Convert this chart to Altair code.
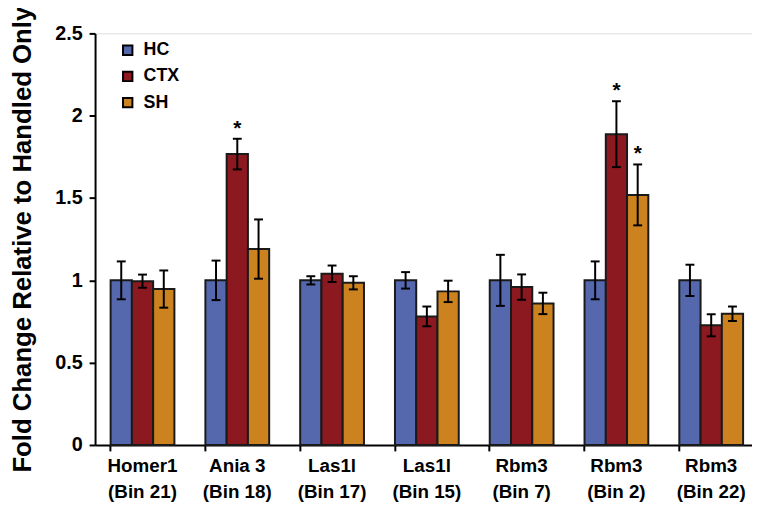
import altair as alt
import pandas as pd

groups = ["Homer1 (Bin 21)", "Ania 3 (Bin 18)", "Las1l (Bin 17)", "Las1l (Bin 15)",
          "Rbm3 (Bin 7)", "Rbm3 (Bin 2)", "Rbm3 (Bin 22)"]
series_names = ["HC", "CTX", "SH"]
colors = ["#5568AE", "#8C1820", "#CD8220"]

hc_vals = [1.0, 1.0, 1.0, 1.0, 1.0, 1.0, 1.0]
hc_err = [0.115, 0.12, 0.025, 0.05, 0.155, 0.115, 0.095]
ctx_vals = [0.995, 1.767, 1.04, 0.781, 0.959, 1.888, 0.727]
ctx_err = [0.04, 0.093, 0.05, 0.06, 0.077, 0.2, 0.067]
sh_vals = [0.947, 1.19, 0.985, 0.933, 0.86, 1.519, 0.797]
sh_err = [0.113, 0.18, 0.04, 0.065, 0.065, 0.185, 0.044]

# significant (group, series) pairs marked with an asterisk
sig = [("Ania 3 (Bin 18)", "CTX"), ("Rbm3 (Bin 2)", "CTX"), ("Rbm3 (Bin 2)", "SH")]

rows = []
for s, vals, errs in zip(series_names, [hc_vals, ctx_vals, sh_vals], [hc_err, ctx_err, sh_err]):
    for g, v, e in zip(groups, vals, errs):
        rows.append({"group": g, "series": s, "value": v, "lo": v - e, "hi": v + e,
                     "sig": "*" if (g, s) in sig else ""})
df = pd.DataFrame(rows)

FONT = "Liberation Sans"

x_scale = alt.Scale(paddingInner=0.327, paddingOuter=0.129, align=0.636)
x_enc = alt.X("group:N", sort=groups, scale=x_scale,
              axis=alt.Axis(title=None, labelAngle=0, bandPosition=0,
                            labelExpr="[slice(datum.label, 0, indexof(datum.label, ' (')), slice(datum.label, indexof(datum.label, ' (') + 1)]",
                            labelFont=FONT, labelFontSize=19, labelFontWeight="bold",
                            labelColor="black", labelLineHeight=26, labelPadding=6,
                            tickSize=6, tickWidth=2, tickColor="black",
                            domainColor="black", domainWidth=2))
xo_enc = alt.XOffset("series:N", sort=series_names,
                     scale=alt.Scale(paddingInner=0, paddingOuter=0))
y_scale = alt.Scale(domain=[0, 2.5], nice=False)

base = alt.Chart(df)

bars = base.mark_bar(stroke="#1a1a1a", strokeWidth=2).encode(
    x=x_enc,
    xOffset=xo_enc,
    y=alt.Y("value:Q", scale=y_scale,
            axis=alt.Axis(title="Fold Change Relative to Handled Only",
                          values=[0, 0.5, 1, 1.5, 2, 2.5], format="~g",
                          labelFont=FONT, labelFontSize=20, labelFontWeight="bold",
                          labelColor="black", labelPadding=7,
                          titleFont=FONT, titleFontSize=26, titleFontWeight="bold",
                          titleColor="black", titlePadding=19,
                          tickSize=6, tickWidth=2, tickColor="black",
                          domainColor="black", domainWidth=2, grid=False)),
    color=alt.Color("series:N", sort=series_names,
                    scale=alt.Scale(domain=series_names, range=colors),
                    legend=alt.Legend(title=None, orient="none", legendX=24, legendY=8,
                                      symbolType="square", symbolSize=90,
                                      symbolStrokeColor="black", symbolStrokeWidth=2,
                                      symbolOpacity=1,
                                      labelFont=FONT, labelFontSize=18, labelFontWeight="bold",
                                      labelColor="black", rowPadding=8.5, labelOffset=7)),
)

rules = base.mark_rule(color="black", strokeWidth=2).encode(
    x=alt.X("group:N", sort=groups, scale=x_scale), xOffset=xo_enc,
    y=alt.Y("lo:Q", scale=y_scale), y2="hi:Q")

caps_hi = base.mark_tick(color="black", thickness=2, size=9, opacity=1).encode(
    x=alt.X("group:N", sort=groups, scale=x_scale), xOffset=xo_enc, y=alt.Y("hi:Q", scale=y_scale))
caps_lo = base.mark_tick(color="black", thickness=2, size=9, opacity=1).encode(
    x=alt.X("group:N", sort=groups, scale=x_scale), xOffset=xo_enc, y=alt.Y("lo:Q", scale=y_scale))

stars = base.mark_text(font=FONT, fontSize=21, fontWeight="bold", color="black",
                       baseline="alphabetic", dy=-4).encode(
    x=alt.X("group:N", sort=groups, scale=x_scale), xOffset=xo_enc,
    y=alt.Y("hi:Q", scale=y_scale), text="sig:N")

chart = alt.layer(bars, rules, caps_hi, caps_lo, stars).properties(
    width=664, height=416,
    autosize=alt.AutoSizeParams(type="none"),
    padding={"left": 88, "top": 23, "right": 0, "bottom": 59},
).configure_view(stroke=None).configure(background="white")

chart.save("out.html", embed_options={"renderer": "svg", "actions": False})
